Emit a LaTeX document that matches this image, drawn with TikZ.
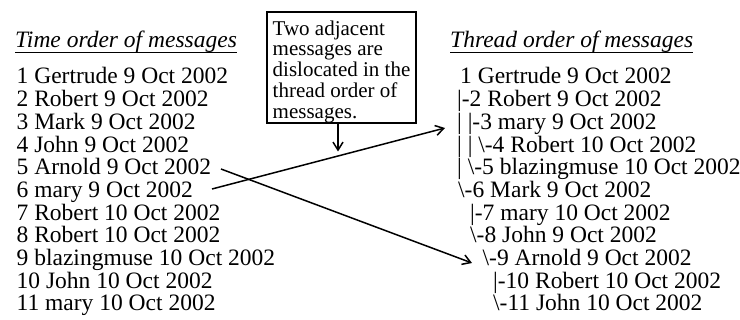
\documentclass[tikz,border=0pt]{standalone}
\usepackage{fontspec}
\setmainfont{Liberation Serif}
\usetikzlibrary{arrows.meta}
\begin{document}
\begin{tikzpicture}[x=1pt,y=-1pt,
  row/.style={anchor=base west,inner sep=0pt,font=\fontsize{23.5}{24}\selectfont},
  head/.style={anchor=base west,inner sep=0pt,font=\fontsize{23.5}{24}\selectfont\itshape},
  uline/.style={line width=1.6pt},
  conn/.style={line width=1.5pt,-{Straight Barb[length=8pt,width=10pt,line width=1.5pt]}},
  note/.style={draw,line width=1.6pt,minimum width=149pt,minimum height=111pt,align=left,inner sep=0pt,font=\fontsize{21}{20.8}\selectfont}]
\useasboundingbox (0,0) rectangle (740,320);
% left column
\node[head] (h1) at (15,48) {Time order of messages};
\draw[uline] ([yshift=-4.7pt]h1.base west) -- ([yshift=-4.7pt]h1.base east);
\node[row] (l1) at (16.5,84) {1 Gertrude 9 Oct 2002};
\node[row] (l2) at (16.5,106.7) {2 Robert 9 Oct 2002};
\node[row] (l3) at (16.5,129.4) {3 Mark 9 Oct 2002};
\node[row] (l4) at (16.5,152.1) {4 John 9 Oct 2002};
\node[row] (l5) at (16.5,174.8) {5 Arnold 9 Oct 2002};
\node[row] (l6) at (16.5,197.5) {6 mary 9 Oct 2002};
\node[row] (l7) at (16.5,220.2) {7 Robert 10 Oct 2002};
\node[row] (l8) at (16.5,242.9) {8 Robert 10 Oct 2002};
\node[row] (l9) at (16.5,265.6) {9 blazingmuse 10 Oct 2002};
\node[row] (l10) at (16.5,288.3) {10 John 10 Oct 2002};
\node[row] (l11) at (16.5,311) {11 mary 10 Oct 2002};
% right column
\node[head] (h2) at (450,48) {Thread order of messages};
\draw[uline] ([yshift=-4.7pt]h2.base west) -- ([yshift=-4.7pt]h2.base east);
\node[row] (r1) at (460,84) {1 Gertrude 9 Oct 2002};
\node[row] (r2) at (457,106.7) {\textbar-2 Robert 9 Oct 2002};
\node[row] (r3) at (457,129.4) {\textbar{} \textbar-3 mary 9 Oct 2002};
\node[row] (r4) at (457,152.1) {\textbar{} \textbar{} \textbackslash-4 Robert 10 Oct 2002};
\node[row] (r5) at (457,174.8) {\textbar{} \textbackslash-5 blazingmuse 10 Oct 2002};
\node[row] (r6) at (458,197.5) {\textbackslash-6 Mark 9 Oct 2002};
\node[row] (r7) at (470,220.2) {\textbar-7 mary 10 Oct 2002};
\node[row] (r8) at (470,242.9) {\textbackslash-8 John 9 Oct 2002};
\node[row] (r9) at (482.5,265.6) {\textbackslash-9 Arnold 9 Oct 2002};
\node[row] (r10) at (493,288.3) {\textbar-10 Robert 10 Oct 2002};
\node[row] (r11) at (493,311) {\textbackslash-11 John 10 Oct 2002};
% note box
\node[note] (nb) at (341.5,67.5) {\rule{0pt}{23pt}Two adjacent\\messages are\\dislocated in the\\thread order of\\messages.};
% connectors
\coordinate (nbS) at (338,123);
\coordinate (nbE) at (338,151.5);
\coordinate (aS) at (212,189);
\coordinate (aE) at (445,128);
\coordinate (bS) at (221,169);
\coordinate (bE) at (472,263);
\draw[conn] (nbS) -- (nbE);
\draw[conn] (aS) -- (aE);
\draw[conn] (bS) -- (bE);
\end{tikzpicture}
\end{document}
